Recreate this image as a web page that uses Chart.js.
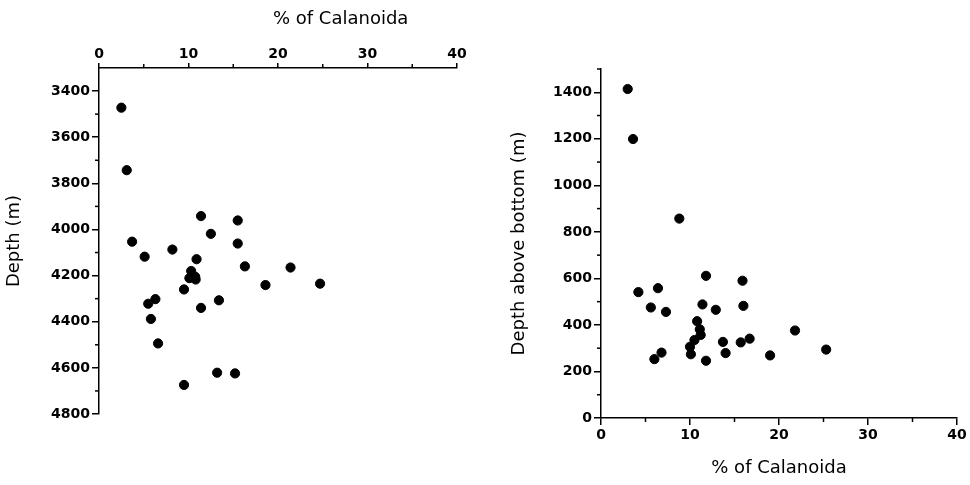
<!DOCTYPE html>
<html>
<head>
<meta charset="utf-8">
<script src="https://cdn.jsdelivr.net/npm/chart.js@4.4.1/dist/chart.umd.min.js"></script>
<style>
  html, body { margin: 0; padding: 0; background: #fff; }
  #wrap { position: relative; width: 970px; height: 485px; }
  .box { position: absolute; top: 0; height: 485px; }
</style>
</head>
<body>
<div id="wrap">
  <div class="box" style="left:0;width:480px"><canvas id="depthChart"></canvas></div>
  <div class="box" style="left:480px;width:490px"><canvas id="aboveChart"></canvas></div>
</div>
<script>
"use strict"

// Left panel: % of Calanoida vs. depth (m)
const depthPct = [2.5, 3.1, 11.4, 15.5, 12.5, 3.7, 15.5, 8.2, 5.1, 10.9, 16.3, 21.4, 10.3, 10.1,
  10.75, 10.8, 18.6, 24.7, 9.5, 6.3, 5.5, 13.4, 11.4, 5.8, 6.6, 13.2, 15.2, 9.5];
const depthM = [3472, 3743, 3942, 3961, 4019, 4053, 4061, 4087, 4118, 4129, 4160, 4165, 4180, 4211,
  4205, 4217, 4241, 4235, 4260, 4302, 4322, 4307, 4340, 4388, 4494, 4621, 4624, 4674];

// Right panel: % of Calanoida vs. depth above bottom (m)
const abovePct = [3.0, 3.6, 8.8, 4.2, 6.4, 11.8, 15.9, 5.6, 7.3, 11.4, 12.9, 16.0, 10.8, 11.1,
  11.2, 10.5, 10.0, 10.1, 21.8, 13.7, 16.7, 15.7, 25.3, 6.0, 6.8, 11.8, 14.0, 19.0];
const aboveM = [1414, 1199, 857, 541, 558, 611, 590, 475, 456, 488, 465, 482, 416, 381,
  357, 335, 306, 274, 376, 327, 341, 325, 294, 253, 281, 246, 279, 269];

const pctTicks = [0, 10, 20, 30, 40];
const depthTicks = [3400, 3600, 3800, 4000, 4200, 4400, 4600, 4800];
const aboveTicks = [0, 200, 400, 600, 800, 1000, 1200, 1400];

const xTitle = "% of Calanoida";

const tickFont = { family: "DejaVu Sans", size: 14, weight: "bold" };
const titleFont = { family: "DejaVu Sans", size: 18 };

function toPoints(xs, ys) {
  let pts = [];
  for (let i = 0; i < xs.length; i++) {
    pts.push({ x: xs[i], y: ys[i] });
  }
  return pts;
}

// short ticks between the labelled ones
const minorTicks = {
  id: "minorTicks",
  afterDraw(chart) {
    const ctx = chart.ctx;
    ctx.save();
    ctx.strokeStyle = "#000";
    ctx.lineWidth = 1.5;
    for (const id in chart.scales) {
      const scale = chart.scales[id];
      const step = scale.options.minorStep;
      if (!step) continue;
      const major = scale.options.ticks.stepSize;
      for (let v = scale.min; v <= scale.max; v += step) {
        if (v % major === 0 || v === scale.min) continue;
        const p = scale.getPixelForValue(v);
        ctx.beginPath();
        if (scale.position === "top") {
          ctx.moveTo(p, scale.bottom); ctx.lineTo(p, scale.bottom - 4);
        } else if (scale.position === "bottom") {
          ctx.moveTo(p, scale.top); ctx.lineTo(p, scale.top + 4);
        } else {
          ctx.moveTo(scale.right, p); ctx.lineTo(scale.right - 4, p);
        }
        ctx.stroke();
      }
    }
    ctx.restore();
  }
};

// top title of the left panel sits off-centre in the original
const offsetTitle = {
  id: "offsetTitle",
  afterDraw(chart) {
    if (chart.canvas.id !== "depthChart") return;
    const ctx = chart.ctx;
    const sx = chart.scales.x;
    ctx.save();
    ctx.font = "18px 'DejaVu Sans'";
    ctx.fillStyle = "#000";
    ctx.textAlign = "center";
    ctx.textBaseline = "middle";
    ctx.fillText(xTitle, sx.getPixelForValue(27), 19);
    ctx.restore();
  }
};

function axisCommon(step, ticksList) {
  return {
    border: { display: true, color: "#000", width: 1.5 },
    grid: { display: true, drawOnChartArea: false, drawTicks: true, tickLength: 7, color: "#000", lineWidth: 1.5 },
    ticks: {
      stepSize: step,
      includeBounds: false,
      color: "#000",
      font: tickFont,
      padding: 2,
      callback: (v) => ticksList.includes(v) ? String(v) : ""
    }
  };
}

function dataset(xs, ys) {
  return {
    data: toPoints(xs, ys),
    backgroundColor: "#000",
    borderColor: "#000",
    pointRadius: 4.6,
    pointHoverRadius: 4.6
  };
}

// left chart
const leftX = axisCommon(10, pctTicks);
leftX.ticks.padding = 0;
leftX.grid.tickLength = 5;
Object.assign(leftX, {
  type: "linear", position: "top", min: 0, max: 40, minorStep: 5,
  afterFit: (scale) => { scale.height = 68; }
});
const leftY = axisCommon(200, depthTicks);
Object.assign(leftY, {
  type: "linear", position: "left", min: 3300, max: 4800, reverse: true, minorStep: 100,
  title: { display: true, text: "Depth (m)", color: "#000", font: titleFont, padding: 4 },
  afterFit: (scale) => { scale.width = 99; }
});

new Chart(document.getElementById("depthChart"), {
  type: "scatter",
  data: { datasets: [dataset(depthPct, depthM)] },
  options: {
    responsive: true,
    maintainAspectRatio: false,
    animation: false,
    layout: { padding: { top: 0, left: 0, right: 23, bottom: 71 } },
    plugins: { legend: { display: false }, tooltip: { enabled: false } },
    scales: { x: leftX, y: leftY }
  },
  plugins: [minorTicks, offsetTitle]
});

// right chart
const rightX = axisCommon(10, pctTicks);
Object.assign(rightX, {
  type: "linear", position: "bottom", min: 0, max: 40, minorStep: 5,
  title: { display: true, text: xTitle, color: "#000", font: titleFont, padding: 4 },
  afterFit: (scale) => { scale.height = 65; }
});
const rightY = axisCommon(200, aboveTicks);
Object.assign(rightY, {
  type: "linear", position: "left", min: 0, max: 1500, minorStep: 100,
  title: { display: true, text: "Depth above bottom (m)", color: "#000", font: titleFont, padding: 4 },
  afterFit: (scale) => { scale.width = 96; }
});

new Chart(document.getElementById("aboveChart"), {
  type: "scatter",
  data: { datasets: [dataset(abovePct, aboveM)] },
  options: {
    responsive: true,
    maintainAspectRatio: false,
    animation: false,
    layout: { padding: { top: 69, left: 25, right: 13, bottom: 2 } },
    plugins: { legend: { display: false }, tooltip: { enabled: false } },
    scales: { x: rightX, y: rightY }
  },
  plugins: [minorTicks]
});
</script>
</body>
</html>
